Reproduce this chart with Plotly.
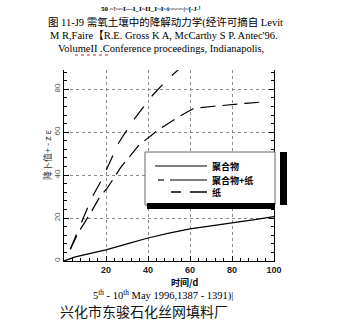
import plotly.graph_objects as go

# ---- data ----
time_polymer = [0, 5, 10, 20, 30, 40, 50, 60, 70, 80, 90, 100]
deg_polymer = [0, 1.8, 3.0, 5.2, 8.0, 10.7, 13.0, 15.0, 16.4, 17.7, 19.2, 20.7]

time_mix = [3, 6.7, 12.9, 16.7, 20.9, 27.1, 35.7, 44.8, 54.3, 61.9, 71.4, 79.5, 88, 96]
deg_mix = [5.5, 13, 22.8, 29.3, 34.4, 43.7, 54, 61, 67, 71.2, 72.1, 73, 73.6, 74.2]

time_paper = [3, 8, 13, 18.6, 26, 33, 42, 48.6, 53.3, 56]
deg_paper = [5.5, 17.7, 29, 39, 55, 65.6, 77, 84, 88, 90.5]

x_ticks = [20, 40, 60, 80, 100]
x_tick_text = ["20", "40", "60", "80", "100"]
y_ticks = [0, 20, 40, 60, 80]
y_tick_text = ["0", "20", "40", "60", "80"]

series_names = ["聚合物", "聚合物+纸", "纸"]

# ---- layout geometry (pixels) ----
W, H = 337, 320
L, R, T, B = 64, 274, 70, 261


def px(x):
    return (x - L) / (R - L)


def py(y):
    return (B - y) / (B - T)


SERIF = "Liberation Serif, Noto Sans CJK SC, serif"
CJK = "Noto Sans CJK SC, sans-serif"

fig = go.Figure()
fig.add_trace(go.Scatter(x=time_polymer, y=deg_polymer, mode="lines", name=series_names[0],
                         line=dict(color="black", width=1.2)))
fig.add_trace(go.Scatter(x=time_mix, y=deg_mix, mode="lines", name=series_names[1],
                         line=dict(color="black", width=1.2, dash="15px,7px")))
fig.add_trace(go.Scatter(x=time_paper, y=deg_paper, mode="lines", name=series_names[2],
                         line=dict(color="black", width=1.2, dash="16px,13px")))

grid = dict(showgrid=True, gridcolor="#8a8a8a", gridwidth=1, griddash="dot")
fig.update_xaxes(range=[0, 100], tickvals=x_ticks, ticktext=["<b>%s</b>" % t for t in x_tick_text],
                 ticks="inside", ticklen=5, tickcolor="black",
                 showline=True, linecolor="black", linewidth=1.3, zeroline=False,
                 minor=dict(dtick=4, ticks="inside", ticklen=3, tickcolor="black", showgrid=False),
                 tickfont=dict(family="Liberation Sans", size=9, color="#222"),
                 **grid)
fig.update_yaxes(range=[0, 89], tickvals=y_ticks, ticktext=y_tick_text, tickangle=-90,
                 ticks="inside", ticklen=5, tickcolor="black",
                 showline=True, linecolor="black", linewidth=1.3, mirror="ticks", zeroline=False,
                 minor=dict(dtick=4, ticks="inside", ticklen=3, tickcolor="black", showgrid=False),
                 tickfont=dict(family="Liberation Sans", size=8, color="#555"),
                 **grid)

shapes = []
# legend box with shadow
shapes.append(dict(type="rect", xref="paper", yref="paper", x0=px(145), x1=px(275), y0=py(205), y1=py(152),
                   fillcolor="white", line=dict(color="#666", width=1), layer="above"))
shapes.append(dict(type="rect", xref="paper", yref="paper", x0=px(147), x1=px(275), y0=py(209), y1=py(203),
                   fillcolor="black", line=dict(width=0), layer="above"))
shapes.append(dict(type="rect", xref="paper", yref="paper", x0=px(280), x1=px(287), y0=py(205), y1=py(152),
                   fillcolor="black", line=dict(width=0), layer="above"))
# legend samples
shapes.append(dict(type="line", xref="paper", yref="paper", x0=px(155), x1=px(207), y0=py(166), y1=py(166),
                   line=dict(color="black", width=1.2), layer="above"))
shapes.append(dict(type="line", xref="paper", yref="paper", x0=px(158), x1=px(164), y0=py(180), y1=py(180),
                   line=dict(color="black", width=1.2), layer="above"))
shapes.append(dict(type="line", xref="paper", yref="paper", x0=px(170), x1=px(207), y0=py(180), y1=py(180),
                   line=dict(color="black", width=1.2), layer="above"))
shapes.append(dict(type="line", xref="paper", yref="paper", x0=px(171), x1=px(181), y0=py(192), y1=py(192),
                   line=dict(color="black", width=1.5), layer="above"))
shapes.append(dict(type="line", xref="paper", yref="paper", x0=px(190), x1=px(207), y0=py(192), y1=py(192),
                   line=dict(color="black", width=1.5), layer="above"))
# red spell-check underline
shapes.append(dict(type="line", xref="paper", yref="paper", x0=px(75), x1=px(110), y0=py(55), y1=py(55),
                   line=dict(color="#d02020", width=1, dash="dot")))

ann = []


def text(x, y, s, size, family=SERIF, color="black", xanchor="center", angle=0):
    ann.append(dict(x=px(x), y=py(y), xref="paper", yref="paper", text=s, showarrow=False,
                    xanchor=xanchor, yanchor="middle", textangle=angle,
                    font=dict(family=family, size=size, color=color)))


text(150, 9, "<b>50 ~!~~I—I_I~II_I~I~i~~~~|~[-J-ⁱ</b>", 7)
text(165, 23, "图 11-J9 需氧土壤中的降解动力学(经许可摘自 Levit", 10.5, family="Liberation Serif, Noto Sans CJK SC")
text(164, 36, "M R,Faire【R.E. Gross K A, McCarthy S P. Antec'96.", 10.5)
text(161, 48, "VolumeII .Conference proceedings, Indianapolis,", 10.5)

for yy, name in zip([166, 180, 192], series_names):
    text(210, yy, "<b>" + name + "</b>", 9, family=CJK, xanchor="left")

text(47, 155, "降卜值+ - z ε", 9, family=CJK, color="#333", angle=-90)
text(184, 282, "<b>时间/d</b>", 9, family=CJK)
text(163, 295, "5<sup>th</sup> - 10<sup>th</sup> May 1996,1387 - 1391)|", 10.5)
text(144, 311, "兴化市东骏石化丝网填料厂", 14, family=CJK, color="#111")

fig.update_layout(width=W, height=H, margin=dict(l=L, r=W - R, t=T, b=H - B),
                  paper_bgcolor="white", plot_bgcolor="white", showlegend=False,
                  shapes=shapes, annotations=ann)

fig.write_html("out.html")
